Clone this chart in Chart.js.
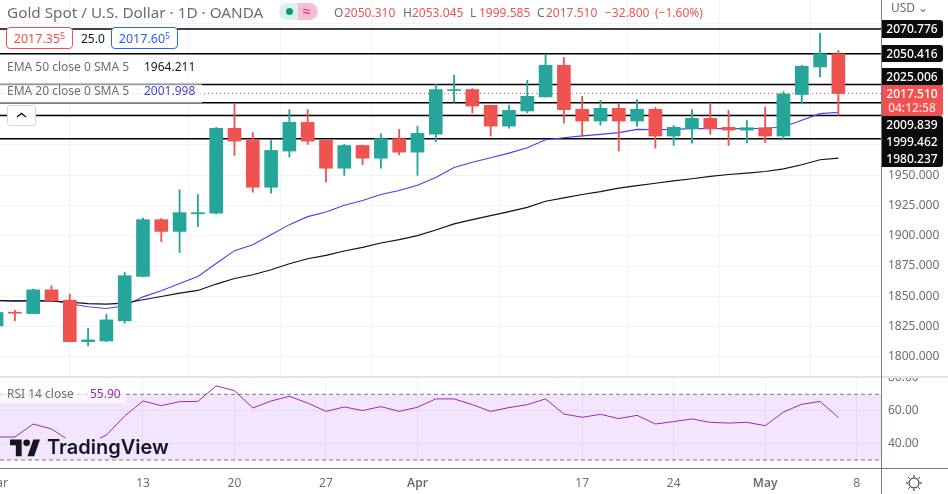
<!DOCTYPE html>
<html>
<head>
<meta charset="utf-8">
<style>
  html, body { margin: 0; padding: 0; background: #fff; overflow: hidden; }
  body { width: 948px; height: 494px; position: relative; font-family: "Noto Sans", sans-serif; }
  canvas { position: absolute; left: 0; display: block; }
  #main { top: 0; }
  #rsi { top: 377px; }
  .t { position: absolute; white-space: nowrap; line-height: 16px; font-size: 12px; color: #6a6d78; }
  .red { color: #ef5350; }
  .tag { position: absolute; left: 881px; width: 62px; background: #0b0b0b; color: #fff; font-size: 12px; font-weight: 500; text-align: center; border-radius: 0 3px 3px 0; }
  .box { position: absolute; top: 27px; height: 22px; background: #fff; border-radius: 4px; font-size: 12.5px; line-height: 22px; text-align: center; box-sizing: border-box; }
  .box sup { font-size: 9px; line-height: 0; vertical-align: 4px; }
  .rule { position: absolute; background: #787b86; }
</style>
</head>
<body>
<canvas id="main" width="948" height="377"></canvas>
<canvas id="rsi" width="948" height="117"></canvas>

<!-- header -->
<div class="t" style="left:7px;top:3px;font-size:15.3px;line-height:18px">Gold Spot / U.S. Dollar · 1D · OANDA</div>
<div style="position:absolute;left:279px;top:3px;width:20px;height:17px;background:#dcf1ed;border-radius:9px 0 0 9px"></div>
<div style="position:absolute;left:298px;top:3px;width:20px;height:17px;background:#f8bdd3;border-radius:0 9px 9px 0"></div>
<div style="position:absolute;left:286px;top:8px;width:7px;height:7px;background:#089981;border-radius:50%"></div>
<div class="t" style="left:303px;top:3px;color:#d81b60;font-size:14px">≈</div>
<div class="t" style="left:334px;top:5px">O</div><div class="t red" style="left:344px;top:5px">2050.310</div>
<div class="t" style="left:403px;top:5px">H</div><div class="t red" style="left:412px;top:5px">2053.045</div>
<div class="t" style="left:470px;top:5px">L</div><div class="t red" style="left:479px;top:5px">1999.585</div>
<div class="t" style="left:537px;top:5px">C</div><div class="t red" style="left:546px;top:5px">2017.510</div>
<div class="t red" style="left:605px;top:5px">−32.800</div>
<div class="t red" style="left:655px;top:5px">(−1.60%)</div>

<!-- buy / sell boxes -->
<div class="box" style="left:6px;width:67px;border:1px solid #ef5350;color:#ef5350">2017.35<sup>5</sup></div>
<div class="t" style="left:81px;top:31px;color:#131722">25.0</div>
<div class="box" style="left:111px;width:67px;border:1px solid #2962ff;color:#2962ff">2017.60<sup>5</sup></div>

<!-- indicator legends -->
<div class="t" style="left:7px;top:59px">EMA 50 close 0 SMA 5</div>
<div class="t" style="left:144px;top:59px;color:#131722">1964.211</div>
<div style="position:absolute;left:0;top:84px;width:202px;height:19px;background:rgba(255,255,255,.6)"></div>
<div class="t" style="left:7px;top:83px">EMA 20 close 0 SMA 5</div>
<div class="t" style="left:144px;top:83px;color:#3f3fdc">2001.998</div>
<div style="position:absolute;left:7px;top:105px;width:27px;height:19px;background:#fff;border:1px solid #d6d8de;border-radius:3px">
  <svg width="27" height="19"><path d="M9 11 L13.5 7.5 L18 11" fill="none" stroke="#131722" stroke-width="1.5"/></svg>
</div>

<!-- price axis -->
<div class="t" style="left:891px;top:0;height:16px;line-height:16px">USD ⌄</div>
<div class="tag" style="top:20px;height:18px;line-height:18px">2070.776</div>
<div class="tag" style="top:45px;height:17px;line-height:17px">2050.416</div>
<div class="tag" style="top:68px;height:18px;line-height:18px">2025.006</div>
<div class="tag" style="top:116px;height:51px"></div>
<div class="tag" style="top:117px;height:16px;line-height:16px;background:none">2009.839</div>
<div class="tag" style="top:133px;height:17px;line-height:17px;background:none">1999.462</div>
<div class="tag" style="top:150px;height:17px;line-height:17px;background:none">1980.237</div>
<div class="tag" style="top:85px;height:31px;background:#ef5350;line-height:14px;padding-top:2px;box-sizing:border-box">2017.510<br><span style="opacity:.8">04:12:58</span></div>

<!-- rsi legend -->
<div style="position:absolute;left:0;top:385px;width:126px;height:18px;background:rgba(255,255,255,.65)"></div>
<div class="t" style="left:7px;top:386px">RSI 14 close</div>
<div class="t" style="left:90px;top:386px;color:#9c27b0">55.90</div>

<!-- logo -->
<div style="position:absolute;left:60px;top:438px;width:40px;height:18px;background:#f2e5fd"></div>
<svg style="position:absolute;left:10px;top:437px" width="30" height="20" viewBox="0 0 36 24"><path d="M14 3H0v7h7v13h7V3zM29 23h-8l7-20h8l-7 20zM20 11a4 4 0 100-8 4 4 0 000 8z" fill="#131722"/></svg>
<div class="t" style="left:47px;top:435px;color:#131722;font:600 20px/24px Inter, sans-serif">TradingView</div>

<!-- frame -->
<div class="rule" style="left:0;top:376px;width:948px;height:2px;background:#e0e3eb"></div>
<div class="rule" style="left:0;top:468px;width:948px;height:1px"></div>
<div class="rule" style="left:881px;top:0;width:1px;height:494px"></div>
<svg style="position:absolute;left:905px;top:474px" width="18" height="18" viewBox="0 0 18 18">
  <circle cx="9" cy="9" r="5" fill="none" stroke="#131722" stroke-width="1"/>
  <path d="M9 1v2M9 15v2M1 9h2M15 9h2M3.3 3.3l1.4 1.4M13.3 13.3l1.4 1.4M3.3 14.7l1.4-1.4M13.3 4.7l1.4-1.4" stroke="#131722" stroke-width="1"/>
</svg>

<script src="https://cdn.jsdelivr.net/npm/chart.js"></script>
<script>
// daily candles, 1 Mar to 5 May
const opens = [1825.5,1836.8,1835.7,1855.3,1846.8,1812.5,1813.1,1829.7,1866.4,1913.3,1903.6,1918.1,1918.6,1988.8,1978.8,1940.1,1970,1993.7,1978.8,1955.8,1974.6,1964.1,1980.2,1969.1,1984,2020,2020.8,2007.8,1990.6,2003.1,2014.7,2040.9,2004.5,1994.8,2005.3,1994.8,2004.5,1982.4,1988.5,1997,1989.6,1987.3,1989.3,1982.4,2016.7,2039.5,2050.31];
const highs = [1838,1838.5,1856,1858.7,1851.8,1823.6,1835.2,1870,1914.7,1914.2,1938,1934.1,1989.5,2009.5,1985.2,1978.8,2004.2,2004.2,1978.8,1975.5,1974.9,1984.4,1987.9,1990.4,2025,2032.7,2021.6,2007.8,2007.8,2028.5,2049.5,2047.3,2015.2,2011.9,2008.6,2012.5,2005.9,1991,2004.2,2009.7,2003.6,1995.4,2006.4,2019.1,2040.9,2067.2,2053.045];
const lows = [1824.3,1829.7,1835.5,1846,1812.3,1809,1812.5,1827.8,1866,1895.1,1886,1907.5,1918,1966.4,1936,1935.1,1965,1975.5,1944.2,1949.8,1958.9,1955.8,1966.9,1950,1977.7,2010.3,2001.4,1982.4,1989,2001.7,2014.5,1993.1,1982.1,1991.5,1970,1990.4,1972.4,1974.6,1976.6,1983.8,1974.6,1976.6,1977.1,1979.4,2009.2,2031.2,1999.585];
const closes = [1836.6,1836,1855.3,1846.2,1812.5,1814,1830.5,1867,1913.3,1903.6,1919.1,1919.1,1988.8,1978.2,1940.1,1970.5,1993.7,1978.2,1955.8,1974.6,1964.1,1980.2,1969.1,1984.6,2020.8,2020.8,2007.2,1990.6,2003.6,2015.2,2040.9,2004.2,1994.8,2005.3,1994.8,2004.5,1982.4,1989.6,1997,1988.5,1987.3,1989.3,1982.4,2017.2,2040.1,2050.4,2017.51];
const ema20 = [1846.2,1846,1846.2,1846.7,1843.8,1841.3,1839.9,1842.1,1849.5,1854.5,1860.6,1866.4,1877.1,1887.7,1892.6,1900.9,1909.2,1915.8,1919.7,1925.2,1929.1,1934.1,1937.4,1941.8,1948.1,1956.4,1960.8,1964.5,1968.3,1972.7,1979.4,1981,1982.5,1983.8,1985.2,1987.9,1987.7,1987.9,1988.5,1988.5,1988.5,1988.5,1988.8,1989.8,1995.4,2000.9,2002];
const ema50 = [1846.6,1846.2,1846.2,1846,1845.2,1844,1843.5,1844.3,1847.1,1849.8,1852.6,1854.8,1860.1,1864.7,1867.8,1871.9,1876.9,1881,1883.8,1887.4,1890.4,1894,1896.8,1900.1,1904.8,1909.8,1913.3,1916.7,1920,1923.5,1928.5,1931.3,1934.1,1936.5,1939.3,1941.5,1943.4,1945.4,1947.1,1949,1950.6,1951.7,1953.1,1955.3,1958.7,1962.8,1964.2];
const rsiValues = [44,44,51.9,48.9,41.6,39.7,45.2,56.8,65.9,63.1,65.5,65.7,75.1,72.2,61.7,65.9,68.8,64.7,59.6,62.3,60.1,62.5,59.6,62.1,67.2,67.2,63.7,59.6,61.9,63.7,67.2,58,56,57.8,55.2,57.2,51.9,53.4,55,52.9,52.5,52.9,50.9,59.2,63.9,65.7,55.9];

const levels = [2070.776,2050.416,2025.006,2009.839,1999.462,1980.237];
const lastPrice = 2017.51;
const priceTicks = [1800,1825,1850,1875,1900,1925,1950,1975,2000,2025,2050,2075];
const rsiTicks = [40,60,80];
const rsiBand = [70,30];
const dayTicks = [0,8,13,18,23,32,37,42,47];
const dayLabels = ['Mar','13','20','27','Apr','17','24','May','8'];

const UP = '#26a69a', DOWN = '#ef5350';
const X_MIN = 0.186, X_MAX = 48.33;
const GRID = '#f0f3fa', AXIS = '#787b86';
const FONT = '"Noto Sans", sans-serif';
const barColors = opens.map((o, i) => closes[i] >= o ? UP : DOWN);

function series(values) {
  return values.map((v, i) => ({x: i, y: v}));
}
function hline(v) {
  return [{x: X_MIN, y: v}, {x: X_MAX, y: v}];
}

function xAxis(showLabels) {
  return {
    type: 'linear', min: X_MIN, max: X_MAX, offset: false,
    afterBuildTicks: s => { s.ticks = dayTicks.map(v => ({value: v})); },
    afterFit: s => { s.paddingLeft = 0; s.paddingRight = 0; s.height = showLabels ? 26 : 0; },
    grid: {color: GRID, drawTicks: false},
    border: {display: false},
    ticks: {
      display: showLabels, autoSkip: false, maxRotation: 0, padding: 8, color: '#6a6d78',
      font: (c) => ({family: FONT, size: 12, weight: dayLabels[c.index] == 'Apr' || dayLabels[c.index] == 'May' ? '600' : '400'}),
      callback: (v) => dayLabels[dayTicks.indexOf(v)]
    }
  };
}
function yAxis(min, max, ticks, fmt) {
  return {
    position: 'right', min: min, max: max,
    afterBuildTicks: s => { s.ticks = ticks.map(v => ({value: v})); },
    afterFit: s => { s.width = 67; s.paddingTop = 0; s.paddingBottom = 0; },
    grid: {color: GRID, drawTicks: false},
    border: {display: false},
    ticks: {padding: 7, color: '#6a6d78', font: {family: FONT, size: 12}, callback: fmt}
  };
}
const baseOptions = {
  responsive: false, animation: false, events: [],
  layout: {padding: 0},
  plugins: {legend: {display: false}, tooltip: {enabled: false}}
};
function lineSet(data, color, width, extra) {
  return Object.assign({type: 'line', data: data, borderColor: color, borderWidth: width, pointRadius: 0, tension: 0, order: 3}, extra);
}

const mainSets = levels.map(v => lineSet(hline(v), '#000', 1.5));
mainSets.push(lineSet(hline(lastPrice), DOWN, 1, {borderDash: [1, 3]}));
mainSets.push(lineSet(series(ema50), '#111', 1.2, {order: 2}));
mainSets.push(lineSet(series(ema20), '#4a40f0', 1.1, {order: 2}));
// wicks and bodies are floating bars, bodies on top
mainSets.push({type: 'bar', order: 1, grouped: false, barThickness: 1.2, borderWidth: 0,
  backgroundColor: barColors, data: lows.map((l, i) => ({x: i, y: [l, highs[i]]}))});
mainSets.push({type: 'bar', order: 0, grouped: false, barThickness: 13, borderWidth: 0,
  backgroundColor: barColors, data: opens.map((o, i) => ({x: i, y: [o, closes[i]]}))});

new Chart(document.getElementById('main'), {
  type: 'bar',
  data: {datasets: mainSets},
  options: Object.assign({}, baseOptions, {
    scales: {
      x: xAxis(false),
      y: yAxis(1783.3, 2094.8, priceTicks, v => v <= 1950 ? v.toFixed(3) : '')
    }
  })
});

new Chart(document.getElementById('rsi'), {
  type: 'line',
  data: {datasets: [
    lineSet(hline(rsiBand[0]), AXIS, 1, {borderDash: [4, 3], fill: '+1', backgroundColor: 'rgba(150,40,240,.12)'}),
    lineSet(hline(rsiBand[1]), AXIS, 1, {borderDash: [4, 3]}),
    lineSet(series(rsiValues), '#9c27b0', 1, {order: 1})
  ]},
  options: Object.assign({}, baseOptions, {
    scales: {
      x: xAxis(true),
      y: yAxis(25.13, 80.53, rsiTicks, v => v.toFixed(2))
    }
  })
});
</script>
</body>
</html>
